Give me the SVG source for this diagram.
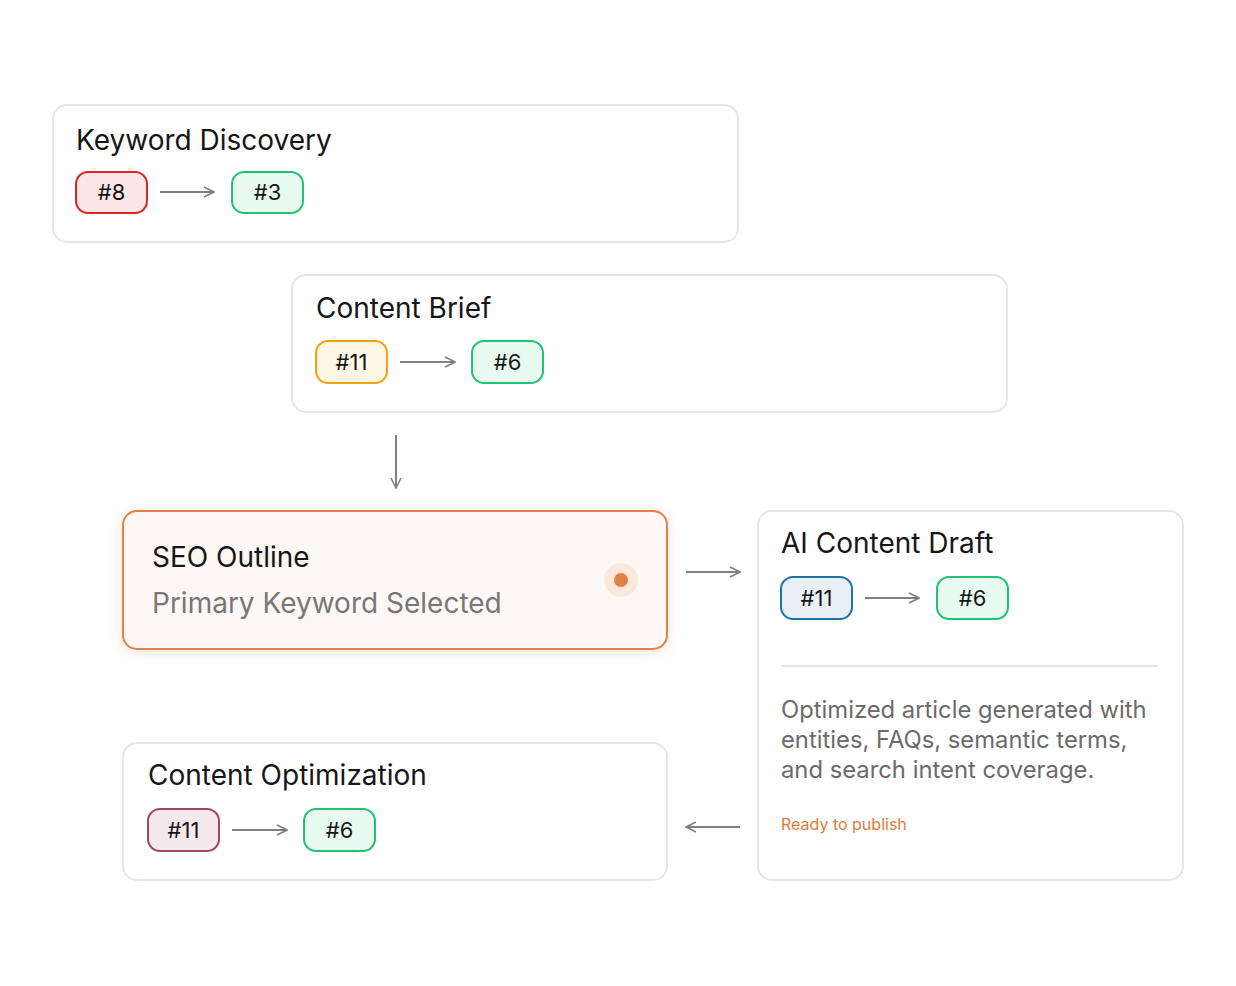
<svg xmlns="http://www.w3.org/2000/svg" width="1236" height="986" viewBox="0 0 1236 986">
<defs>
<style>
.card{fill:#fff;stroke:#e6e6e6;stroke-width:2}
.title{font-family:Inter,"Noto Sans",sans-serif;font-size:28px;fill:#161616}
.pt{font-family:Inter,"Noto Sans",sans-serif;font-size:22px;fill:#161616;text-anchor:middle}
.sub{font-family:Inter,"Noto Sans",sans-serif;font-size:28px;fill:#777}
.para{font-family:Inter,"Noto Sans",sans-serif;font-size:23.8px;fill:#6b6b6b}
.conn{stroke:#808080;stroke-width:2;fill:none}
.red{fill:#fde6e6;stroke:#e02424;stroke-width:2}
.green{fill:#e8fbf0;stroke:#22c272;stroke-width:2}
.amber{fill:#fff6e6;stroke:#f5a20a;stroke-width:2}
.blue{fill:#e8f0f7;stroke:#1f73a8;stroke-width:2}
.maroon{fill:#f6e9ee;stroke:#9c4868;stroke-width:2}
</style>
<marker id="ah" viewBox="0 0 12 12" refX="11" refY="6" markerWidth="12" markerHeight="12" markerUnits="userSpaceOnUse" orient="auto">
<path d="M1 1 L11 6 L1 11" fill="none" stroke="#808080" stroke-width="1.6"/>
</marker>
<filter id="glow" x="-10%" y="-20%" width="120%" height="140%">
<feDropShadow dx="0" dy="2" stdDeviation="6" flood-color="#e0834a" flood-opacity="0.25"/>
</filter>
</defs>
<rect width="1236" height="986" fill="#fff"/>

<g id="keyword-discovery">
<rect class="card" x="53" y="105" width="685" height="137" rx="14"/>
<text class="title" x="76" y="150">Keyword Discovery</text>
<rect class="red" x="76" y="172" width="71" height="41" rx="12"/>
<text class="pt" x="111.5" y="200">#8</text>
<rect class="green" x="232" y="172" width="71" height="41" rx="12"/>
<text class="pt" x="267.5" y="200">#3</text>
</g>

<g id="content-brief">
<rect class="card" x="292" y="275" width="715" height="137" rx="14"/>
<text class="title" x="316" y="318">Content Brief</text>
<rect class="amber" x="316" y="341" width="71" height="42" rx="12"/>
<text class="pt" x="351.5" y="370">#11</text>
<rect class="green" x="472" y="341" width="71" height="42" rx="12"/>
<text class="pt" x="507.5" y="370">#6</text>
</g>

<g id="seo-outline">
<rect x="123" y="511" width="544" height="138" rx="14" fill="#fdf8f5" stroke="#e0834a" stroke-width="2" filter="url(#glow)"/>
<text class="title" x="152" y="567">SEO Outline</text>
<text class="sub" x="152" y="613">Primary Keyword Selected</text>
<circle cx="621" cy="580" r="17" fill="#fae8dd"/>
<circle cx="621" cy="580" r="7" fill="#e0834a"/>
</g>

<g id="ai-content-draft">
<rect class="card" x="758" y="511" width="425" height="369" rx="14"/>
<text class="title" x="781" y="553">AI Content Draft</text>
<rect class="blue" x="781" y="577" width="71" height="42" rx="12"/>
<text class="pt" x="816.5" y="606">#11</text>
<rect class="green" x="937" y="577" width="71" height="42" rx="12"/>
<text class="pt" x="972.5" y="606">#6</text>
<line x1="781" y1="666" x2="1158" y2="666" stroke="#e6e6e6" stroke-width="2"/>
<text class="para" x="781" y="718">Optimized article generated with</text>
<text class="para" x="781" y="748">entities, FAQs, semantic terms,</text>
<text class="para" x="781" y="778">and search intent coverage.</text>
<text x="781" y="830" font-family="Inter, 'Noto Sans', sans-serif" font-size="16" fill="#e07b3a">Ready to publish</text>
</g>

<g id="content-optimization">
<rect class="card" x="123" y="743" width="544" height="137" rx="14"/>
<text class="title" x="148" y="785">Content Optimization</text>
<rect class="maroon" x="148" y="809" width="71" height="42" rx="12"/>
<text class="pt" x="183.5" y="838">#11</text>
<rect class="green" x="304" y="809" width="71" height="42" rx="12"/>
<text class="pt" x="339.5" y="838">#6</text>
</g>

<g id="connectors">
<line class="conn" x1="160" y1="192" x2="214" y2="192" marker-end="url(#ah)"/>
<line class="conn" x1="400" y1="362" x2="455" y2="362" marker-end="url(#ah)"/>
<line class="conn" x1="396" y1="435" x2="396" y2="488" marker-end="url(#ah)"/>
<line class="conn" x1="686" y1="572" x2="740" y2="572" marker-end="url(#ah)"/>
<line class="conn" x1="865" y1="598" x2="919" y2="598" marker-end="url(#ah)"/>
<line class="conn" x1="740" y1="827" x2="686" y2="827" marker-end="url(#ah)"/>
<line class="conn" x1="232" y1="830" x2="287" y2="830" marker-end="url(#ah)"/>
</g>
</svg>
